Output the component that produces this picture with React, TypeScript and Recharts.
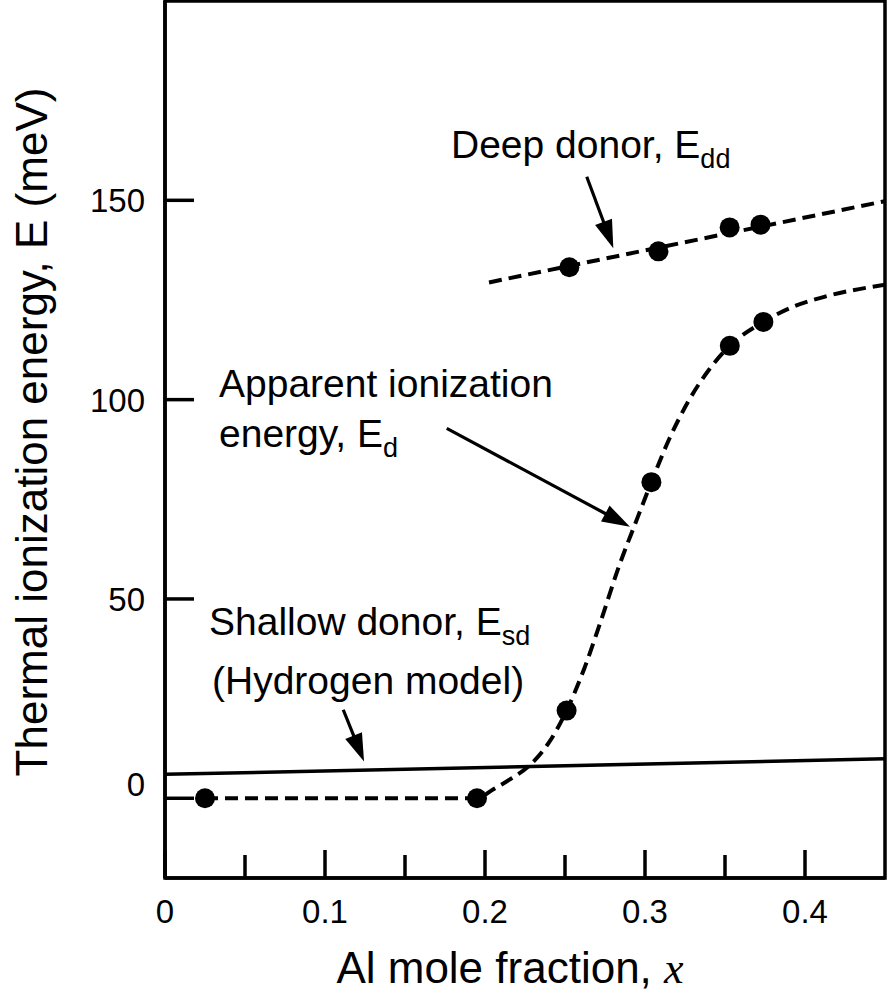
import React from 'react';
import {
  ComposedChart,
  Line,
  Scatter,
  XAxis,
  YAxis,
  ReferenceLine,
  ReferenceArea,
} from 'recharts';

// ---- Axis ticks ----
const xMajorTicks = [0, 0.1, 0.2, 0.3, 0.4];
const xMajorLabels = ['0', '0.1', '0.2', '0.3', '0.4'];
const xMinorTicks = [0.05, 0.15, 0.25, 0.35];
const yTicks = [0, 50, 100, 150];
const yTickLabels = ['0', '50', '100', '150'];

// ---- Deep donor, E_dd ----
const deepDonorLine = [
  { x: 0.2025, e: 129.4 },
  { x: 0.45, e: 149.8 },
];
const deepDonorPoints = [
  { x: 0.2527, e: 133.2 },
  { x: 0.3084, e: 137.2 },
  { x: 0.3529, e: 143.2 },
  { x: 0.3722, e: 143.9 },
];

// ---- Apparent ionization energy, E_d ----
const apparentCurve = [
  { x: 0.025, e: 0 },
  { x: 0.195, e: 0 },
  { x: 0.205, e: 2.2 },
  { x: 0.215, e: 4.6 },
  { x: 0.228, e: 8.3 },
  { x: 0.24, e: 14 },
  { x: 0.251, e: 22 },
  { x: 0.262, e: 32.5 },
  { x: 0.272, e: 44 },
  { x: 0.284, e: 58.5 },
  { x: 0.294, e: 69 },
  { x: 0.304, e: 79.3 },
  { x: 0.315, e: 90 },
  { x: 0.327, e: 99.5 },
  { x: 0.34, e: 107.5 },
  { x: 0.353, e: 113.5 },
  { x: 0.374, e: 119.5 },
  { x: 0.392, e: 123.2 },
  { x: 0.413, e: 125.9 },
  { x: 0.45, e: 128.8 },
];
const apparentPoints = [
  { x: 0.025, e: 0 },
  { x: 0.195, e: 0 },
  { x: 0.251, e: 22 },
  { x: 0.304, e: 79.3 },
  { x: 0.353, e: 113.5 },
  { x: 0.374, e: 119.5 },
];

// ---- Shallow donor (hydrogen model), E_sd ----
const shallowDonorLine = [
  { x: 0, e: 6.0 },
  { x: 0.45, e: 9.9 },
];

// ---- Annotation arrows (tail -> head, data coords) ----
const deepArrow = [
  { x: 0.2636, y: 155.9 },
  { x: 0.2802, y: 138.0 },
];
const apparentArrow = [
  { x: 0.1761, y: 92.8 },
  { x: 0.2906, y: 68.1 },
];
const shallowArrow = [
  { x: 0.1114, y: 22.2 },
  { x: 0.1244, y: 9.2 },
];

const FONT = '"Liberation Sans", Arial, Helvetica, sans-serif';
const SERIF = '"Liberation Serif", "Times New Roman", serif';

const XTick = (props: any) => {
  const { x, y, payload } = props;
  const v = payload.value;
  const idx = xMajorTicks.findIndex((t) => Math.abs(t - v) < 1e-9);
  const major = idx >= 0;
  const len = major ? 28 : 23;
  return (
    <g>
      <line x1={x} y1={y} x2={x} y2={y - len} stroke="#000" strokeWidth={3.5} />
      {major && (
        <text
          x={x}
          y={y + 45}
          textAnchor="middle"
          fontSize={33}
          fontFamily={FONT}
          fill="#000"
        >
          {xMajorLabels[idx]}
        </text>
      )}
    </g>
  );
};

const YTick = (props: any) => {
  const { x, y, payload } = props;
  const v = payload.value;
  const idx = yTicks.indexOf(v);
  const shift = v === 0 ? -14 : 0;
  return (
    <g>
      <line x1={x} y1={y} x2={x + 29} y2={y} stroke="#000" strokeWidth={3.5} />
      <text
        x={x - 20}
        y={y + 12 + shift}
        textAnchor="end"
        fontSize={33}
        fontFamily={FONT}
        fill="#000"
      >
        {yTickLabels[idx]}
      </text>
    </g>
  );
};

const Arrow = (p: any) => {
  const { x1, y1, x2, y2 } = p;
  const dx = x2 - x1;
  const dy = y2 - y1;
  const L = Math.hypot(dx, dy) || 1;
  const ux = dx / L;
  const uy = dy / L;
  const hl = 28;
  const hw = 9;
  const bx = x2 - ux * hl;
  const by = y2 - uy * hl;
  return (
    <g>
      <line x1={x1} y1={y1} x2={bx + ux * 2} y2={by + uy * 2} stroke="#000" strokeWidth={3.2} />
      <polygon
        points={`${x2},${y2} ${bx - uy * hw},${by + ux * hw} ${bx + uy * hw},${by - ux * hw}`}
        fill="#000"
      />
    </g>
  );
};

const Dot = (props: any) => {
  const { cx, cy } = props;
  if (cx == null || cy == null) return null;
  return <circle cx={cx} cy={cy} r={10} fill="#000" />;
};

const dash = '13 7';

export default function App() {
  return (
    <div style={{ position: 'absolute', left: 0, top: 0, background: '#fff' }}>
      <ComposedChart
        width={888}
        height={993}
        margin={{ top: 1, right: 3, left: 0, bottom: 0 }}
      >
        <XAxis
          type="number"
          dataKey="x"
          domain={[0, 0.45]}
          allowDataOverflow
          ticks={[...xMajorTicks, ...xMinorTicks].sort((a, b) => a - b)}
          interval={0}
          tick={<XTick />}
          tickLine={false}
          tickSize={0}
          tickMargin={0}
          height={115}
          axisLine={{ stroke: '#000', strokeWidth: 3.5 }}
        />
        <YAxis
          type="number"
          dataKey="e"
          domain={[-20, 200]}
          allowDataOverflow
          ticks={yTicks}
          interval={0}
          tick={<YTick />}
          tickLine={false}
          tickSize={0}
          tickMargin={0}
          width={165}
          axisLine={{ stroke: '#000', strokeWidth: 3.5 }}
        />
        <ReferenceArea
          x1={0}
          x2={0.45}
          y1={-20}
          y2={200}
          fill="none"
          fillOpacity={0}
          stroke="#000"
          strokeWidth={3.5}
          ifOverflow="visible"
        />
        <Line
          data={shallowDonorLine}
          dataKey="e"
          type="linear"
          stroke="#000"
          strokeWidth={3.5}
          dot={false}
          isAnimationActive={false}
        />
        <Line
          data={deepDonorLine}
          dataKey="e"
          type="linear"
          stroke="#000"
          strokeWidth={4}
          strokeDasharray={dash}
          dot={false}
          isAnimationActive={false}
        />
        <Line
          data={apparentCurve}
          dataKey="e"
          type="monotone"
          stroke="#000"
          strokeWidth={4}
          strokeDasharray={dash}
          dot={false}
          isAnimationActive={false}
        />
        <Scatter data={deepDonorPoints} dataKey="e" shape={<Dot />} isAnimationActive={false} />
        <Scatter data={apparentPoints} dataKey="e" shape={<Dot />} isAnimationActive={false} />

        <ReferenceLine segment={deepArrow} shape={<Arrow />} ifOverflow="visible" />
        <ReferenceLine segment={apparentArrow} shape={<Arrow />} ifOverflow="visible" />
        <ReferenceLine segment={shallowArrow} shape={<Arrow />} ifOverflow="visible" />

        {/* Annotations */}
        <text x={451} y={158} fontSize={39} fontFamily={FONT} fill="#000">
          Deep donor, E
          <tspan fontSize={27} dy={10}>dd</tspan>
        </text>
        <text x={219} y={397} fontSize={39} fontFamily={FONT} fill="#000">
          Apparent ionization
        </text>
        <text x={219} y={447} fontSize={39} fontFamily={FONT} fill="#000">
          energy, E
          <tspan fontSize={27} dy={10}>d</tspan>
        </text>
        <text x={209} y={635} fontSize={39} fontFamily={FONT} fill="#000">
          Shallow donor, E
          <tspan fontSize={27} dy={10}>sd</tspan>
        </text>
        <text x={212} y={694} fontSize={39} fontFamily={FONT} fill="#000">
          (Hydrogen model)
        </text>

        {/* Axis titles */}
        <text
          x={47}
          y={432}
          transform="rotate(-90 47 432)"
          textAnchor="middle"
          fontSize={44}
          fontFamily={FONT}
          fill="#000"
        >
          Thermal ionization energy, E (meV)
        </text>
        <text x={510} y={983} textAnchor="middle" fontSize={44} fontFamily={FONT} fill="#000">
          Al mole fraction,{' '}
          <tspan fontFamily={SERIF} fontStyle="italic">x</tspan>
        </text>
      </ComposedChart>
    </div>
  );
}
